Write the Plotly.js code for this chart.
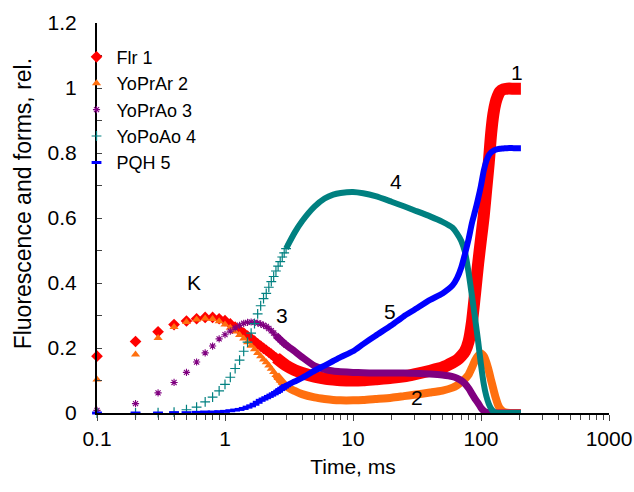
<!DOCTYPE html>
<html>
<head>
<meta charset="utf-8">
<script src="https://cdn.plot.ly/plotly-3.0.1.min.js"></script>
<style>html,body{margin:0;padding:0;background:#fff;}#chart{width:634px;height:492px;}</style>
</head>
<body>
<div id="chart"></div>
<script>
// Time points (ms)
const tEarly = [0.1,0.2,0.3,0.4,0.5,0.6,0.7,0.8,0.9,1.0,1.1,1.2,1.3,1.4,1.5,1.6,1.7,1.8,1.9,2.0,2.1,2.2,2.3,2.4,2.5,2.6,2.7,2.8,2.9,3.0];
const tLate = [2.5,3,3.5,4,5,6,7,8,10,12,15,20,25,30,40,50,60,65,70,75,80,85,90,95,100,105,110,115,120,125,130,135,140,150,160,180,205];

// Series names
const seriesNames = ["Flr 1","YoPrAr 2","YoPrAo 3","YoPoAo 4","PQH 5"];

// Flr 1
const flrEarly = [0.175,0.22,0.25,0.272,0.283,0.29,0.294,0.294,0.29,0.284,0.274,0.264,0.255,0.246,0.237,0.229,0.221,0.213,0.206,0.199,0.193,0.187,0.181,0.175,0.17,0.165,0.16,0.155,0.15,0.146];
const flrLate = [0.17,0.146,0.132,0.123,0.112,0.106,0.103,0.101,0.1,0.101,0.104,0.108,0.113,0.119,0.13,0.14,0.155,0.163,0.175,0.19,0.22,0.28,0.37,0.46,0.535,0.605,0.69,0.77,0.86,0.92,0.955,0.975,0.988,0.996,0.998,0.998,0.998];

// YoPrAr 2
const yoprarEarly = [0.103,0.18,0.231,0.265,0.28,0.288,0.291,0.289,0.282,0.272,0.262,0.251,0.24,0.229,0.218,0.207,0.196,0.185,0.175,0.165,0.156,0.146,0.136,0.126,0.117,0.108,0.1,0.093,0.087,0.082];
const yoprarLate = [0.117,0.082,0.068,0.058,0.048,0.043,0.04,0.039,0.039,0.04,0.043,0.047,0.052,0.056,0.063,0.069,0.078,0.085,0.095,0.105,0.118,0.14,0.162,0.176,0.183,0.175,0.156,0.13,0.1,0.073,0.048,0.028,0.015,0.004,0.001,0,0];

// YoPrAo 3
const yopraoEarly = [0.008,0.029,0.062,0.094,0.125,0.157,0.185,0.206,0.228,0.241,0.252,0.262,0.27,0.276,0.279,0.28,0.279,0.277,0.274,0.27,0.266,0.26,0.253,0.246,0.238,0.232,0.225,0.219,0.214,0.209];
const yopraoLate = [0.238,0.209,0.19,0.172,0.145,0.134,0.129,0.127,0.125,0.124,0.123,0.123,0.123,0.122,0.12,0.117,0.112,0.107,0.1,0.09,0.076,0.059,0.043,0.03,0.016,0.007,0.002,0.001,0,0,0,0,0,0,0,0,0];

// YoPoAo 4
const yopoaoEarly = [0,0,0.001,0.003,0.01,0.018,0.034,0.049,0.068,0.088,0.11,0.137,0.163,0.19,0.218,0.246,0.275,0.305,0.33,0.352,0.368,0.387,0.404,0.42,0.437,0.452,0.466,0.48,0.493,0.506];
const yopoaoLate = [null,0.506,0.555,0.59,0.635,0.66,0.672,0.677,0.68,0.676,0.667,0.65,0.636,0.624,0.605,0.588,0.57,0.552,0.53,0.495,0.432,0.36,0.29,0.22,0.148,0.09,0.052,0.028,0.013,0.005,0.001,0,0,0,0,0,0];

// PQH 5
const pqhEarly = [0,0,0,0.001,0.001,0.002,0.003,0.003,0.004,0.005,0.007,0.009,0.011,0.014,0.018,0.022,0.027,0.033,0.039,0.043,0.047,0.051,0.055,0.059,0.063,0.067,0.072,0.076,0.08,0.084];
const pqhLate = [0.063,0.084,0.097,0.108,0.13,0.146,0.16,0.172,0.19,0.212,0.238,0.27,0.298,0.317,0.348,0.368,0.393,0.415,0.447,0.49,0.535,0.585,0.622,0.66,0.7,0.745,0.775,0.793,0.802,0.807,0.81,0.812,0.813,0.814,0.815,0.815,0.815];

// Curve labels
const labelTexts = ["K","1","2","3","4","5"];
const yTitle = "Fluorescence and forms, rel.";
const xTitle = "Time, ms";

const colors = ["#ff0000","#ff6f0f","#800080","#008080","#0000ff"];
const earlyData = [flrEarly, yoprarEarly, yopraoEarly, yopoaoEarly, pqhEarly];
const lateData = [flrLate, yoprarLate, yopraoLate, yopoaoLate, pqhLate];
const lineWidths = [12, 8, 7, 6, 6];
const markers = [
  {symbol:'diamond', size:9, color:colors[0]},
  {symbol:'triangle-up', size:8, color:colors[1]},
  {symbol:'asterisk-open', size:6, color:colors[2], line:{color:colors[2], width:1.1}},
  {symbol:'cross-thin-open', size:7, color:colors[3], line:{color:colors[3], width:1.2}},
  {symbol:'line-ew-open', size:7, color:colors[4], line:{color:colors[4], width:3}}
];

const traces = [];
for (let i = 0; i < seriesNames.length; i++) {
  traces.push({
    x: tLate, y: lateData[i], type:'scatter', mode:'lines',
    line:{color:colors[i], width:lineWidths[i], shape:'spline', smoothing:0.6},
    legendgroup:'g'+i, showlegend:false, hoverinfo:'skip', connectgaps:false, cliponaxis:false
  });
  traces.push({
    x: tEarly, y: earlyData[i], type:'scatter', mode:'markers',
    name: seriesNames[i], marker: markers[i], legendgroup:'g'+i, cliponaxis:false
  });
}

// annotation positions: [log10(x), y]
const labelPos = [[-0.244,0.403],[2.283,1.049],[1.502,0.049],[0.447,0.301],[1.332,0.711],[1.288,0.311]];
const annotations = labelTexts.map((t, k) => ({
  x: labelPos[k][0], y: labelPos[k][1], xref:'x', yref:'y', text:t, showarrow:false,
  font:{size:21, color:'#000'}, xanchor:'center', yanchor:'middle'
}));
annotations.push({
  xref:'paper', yref:'paper', x:-0.1445, y:0.535, text:yTitle, textangle:-90,
  showarrow:false, xanchor:'center', yanchor:'middle', font:{size:23, color:'#000'}
});

const layout = {
  width:634, height:492,
  margin:{l:97, r:25, t:23, b:79},
  paper_bgcolor:'#fff', plot_bgcolor:'#fff',
  font:{family:'"Liberation Sans", Arial, sans-serif', color:'#000', size:21},
  showlegend:true,
  legend:{x:-0.04, y:0.96, xanchor:'left', yanchor:'top', bgcolor:'rgba(0,0,0,0)',
    font:{size:18, color:'#000'}, traceorder:'grouped', tracegroupgap:0, itemclick:false},
  xaxis:{type:'log', range:[-1,3], dtick:1, exponentformat:'none',
    showline:true, linecolor:'#000', linewidth:1.5, mirror:false,
    ticks:'outside', ticklen:6, tickwidth:1, tickcolor:'#444',
    minor:{ticks:'outside', ticklen:5, tickwidth:1, tickcolor:'#444', dtick:'D1', showgrid:false},
    showgrid:false, zeroline:false, tickfont:{size:21},
    title:{text:xTitle, font:{size:21}, standoff:10}},
  yaxis:{range:[0,1.2], dtick:0.2, showline:true, linecolor:'#000', linewidth:2,
    ticks:'inside', ticklen:5, tickwidth:1, tickcolor:'#444',
    minor:{ticks:'inside', ticklen:5, tickwidth:1, tickcolor:'#444', dtick:0.1, showgrid:false},
    showgrid:false, zeroline:false, tickfont:{size:21}, ticklabelstandoff:14},
  annotations: annotations
};

Plotly.newPlot('chart', traces, layout, {staticPlot:true, displayModeBar:false});
</script>
</body>
</html>
